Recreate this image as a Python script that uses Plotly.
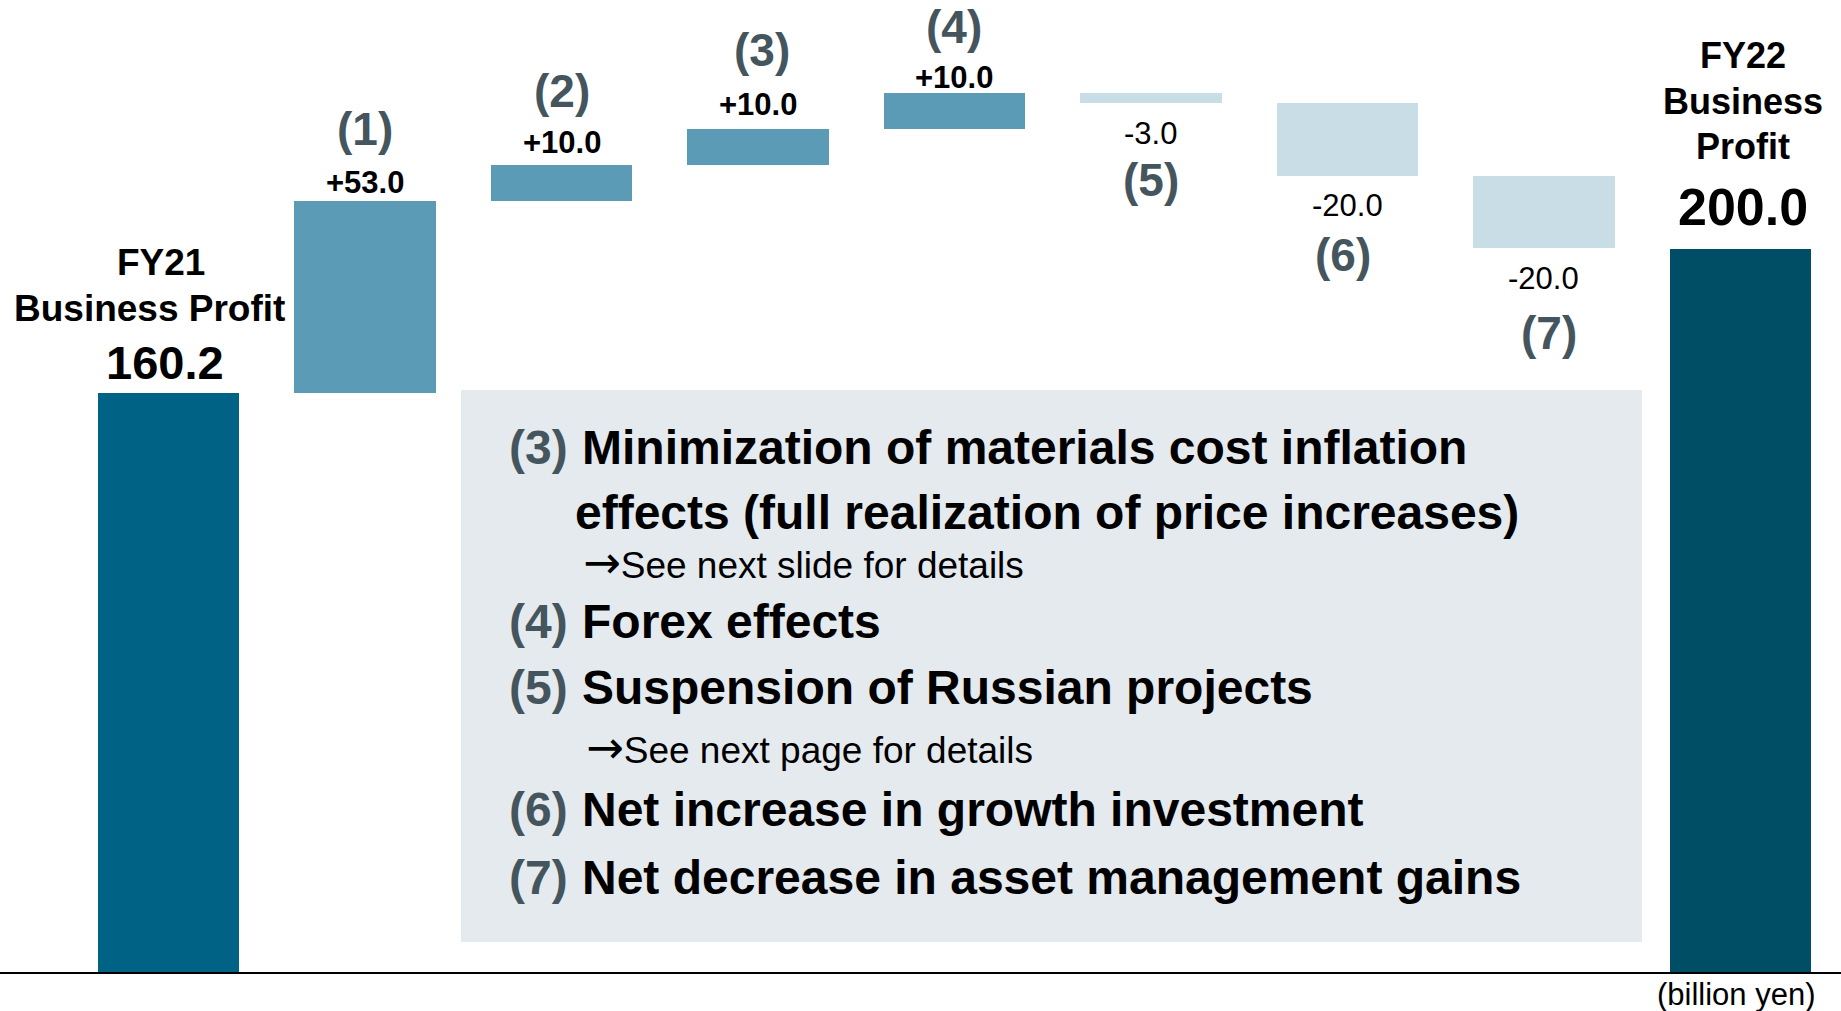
import plotly.graph_objects as go

# ---------------------------------------------------------------------------
# Data: FY21 -> FY22 business profit bridge (billion yen)
# ---------------------------------------------------------------------------
categories = ["FY21", "(1)", "(2)", "(3)", "(4)", "(5)", "(6)", "(7)", "FY22"]
start_value = 160.2
deltas = [53.0, 10.0, 10.0, 10.0, -3.0, -20.0, -20.0]
delta_labels = ["+53.0", "+10.0", "+10.0", "+10.0", "-3.0", "-20.0", "-20.0"]
end_value = 200.0
start_label = "160.2"
end_label = "200.0"

note_nums = ["(3)", "(4)", "(5)", "(6)", "(7)"]
note_texts = [
    "Minimization of materials cost inflation",
    "Forex effects",
    "Suspension of Russian projects",
    "Net increase in growth investment",
    "Net decrease in asset management gains",
]

# colours
C_START = "#006385"
C_END = "#004D66"
C_UP = "#5B9BB5"
C_DOWN = "#C8DDE5"
C_NUM = "#44555E"
C_BOX = "#E4EAED"
FONT = "Liberation Sans, Arial, sans-serif"
ARROW = "<span style='font-family:DejaVu Sans;font-size:45px'>\u2192</span>"

W, H = 1841, 1011
PLOT_H = 972  # plot area height in px (bottom margin below the axis line)

# pixel offsets of the value label / step label from the bar end (layout only)
value_shift = [19, 22, 24, 15, -30, -30, -30]
step_shift = [72, 74, 79, 66, -77, -79, -85]
step_xshift = [0, 0, 4, 0, 0, -4, 5]


def px(x):
    return x / W


def py(y):
    return (PLOT_H - y) / PLOT_H


# ---------------------------------------------------------------------------
# Build bars (floating bars via base)
# ---------------------------------------------------------------------------
bases = [0]
heights = [start_value]
colors = [C_START]
running = start_value
for d in deltas:
    bases.append(running)
    heights.append(d)
    colors.append(C_UP if d > 0 else C_DOWN)
    running += d
bases.append(0)
heights.append(end_value)
colors.append(C_END)

fig = go.Figure()
fig.add_trace(
    go.Bar(
        x=categories,
        y=heights,
        base=bases,
        width=0.7176,
        marker=dict(color=colors, line=dict(width=0)),
        hoverinfo="skip",
        showlegend=False,
    )
)

# ---------------------------------------------------------------------------
# Labels above / below the step bars (data coordinates)
# ---------------------------------------------------------------------------
data_ann = []
running = start_value
for i, (cat, d, lbl) in enumerate(zip(categories[1:-1], deltas, delta_labels)):
    end = running + d
    vtxt = "<b>" + lbl + "</b>" if d > 0 else lbl
    data_ann.append(dict(x=cat, y=end, text=vtxt, yshift=value_shift[i],
                         font=dict(size=31, color="black")))
    data_ann.append(dict(x=cat, y=end, text="<b>" + cat + "</b>", yshift=step_shift[i],
                         xshift=step_xshift[i], font=dict(size=46, color=C_NUM)))
    running = end

# FY21 / FY22 labels
data_ann += [
    dict(x=categories[0], y=start_value, text="<b>" + start_label + "</b>",
         yshift=30, xshift=-4, font=dict(size=47, color="black")),
    dict(x=categories[0], y=start_value, text="<b>Business Profit</b>",
         yshift=84, xshift=-19, font=dict(size=37, color="black")),
    dict(x=categories[0], y=start_value, text="<b>FY21</b>",
         yshift=130, xshift=-8, font=dict(size=37, color="black")),
    dict(x=categories[-1], y=end_value, text="<b>" + end_label + "</b>",
         yshift=42, xshift=3, font=dict(size=52, color="black")),
    dict(x=categories[-1], y=end_value, text="<b>Profit</b>",
         yshift=102, xshift=3, font=dict(size=36, color="black")),
    dict(x=categories[-1], y=end_value, text="<b>Business</b>",
         yshift=147, xshift=3, font=dict(size=36, color="black")),
    dict(x=categories[-1], y=end_value, text="<b>FY22</b>",
         yshift=193, xshift=3, font=dict(size=36, color="black")),
]

for a in data_ann:
    a.update(xref="x", yref="y", showarrow=False, xanchor="center", yanchor="middle")
    a["font"]["family"] = FONT

# ---------------------------------------------------------------------------
# Explanation box (paper coordinates)
# ---------------------------------------------------------------------------
paper_ann = []
num_rows = [447, 621, 687, 809, 877]
for num, txt, yrow in zip(note_nums, note_texts, num_rows):
    paper_ann.append(dict(x=px(507), y=py(yrow), text="<b>" + num + "</b>",
                          font=dict(size=48, color=C_NUM)))
    paper_ann.append(dict(x=px(580), y=py(yrow), text="<b>" + txt + "</b>",
                          font=dict(size=48, color="black")))
paper_ann += [
    dict(x=px(573), y=py(512), text="<b>effects (full realization of price increases)</b>",
         font=dict(size=48, color="black")),
    dict(x=px(581), y=py(562), text=ARROW + "See next slide for details",
         font=dict(size=37, color="black")),
    dict(x=px(584), y=py(748), text=ARROW + "See next page for details",
         font=dict(size=37, color="black")),
    dict(x=px(1818), y=py(994), text="(billion yen)", xanchor="right",
         font=dict(size=31, color="black")),
]

for a in paper_ann:
    a.update(xref="paper", yref="paper", showarrow=False, yanchor="middle")
    a.setdefault("xanchor", "left")
    a["font"]["family"] = FONT

fig.add_shape(type="rect", xref="paper", yref="paper",
              x0=px(461), x1=px(1642), y0=py(942), y1=py(390),
              fillcolor=C_BOX, line=dict(width=0), layer="below")

# ---------------------------------------------------------------------------
# Layout
# ---------------------------------------------------------------------------
fig.update_layout(
    width=W,
    height=H,
    margin=dict(l=0, r=0, t=0, b=H - PLOT_H),
    plot_bgcolor="white",
    paper_bgcolor="white",
    annotations=data_ann + paper_ann,
    bargap=0,
    xaxis=dict(range=[-0.8575, 8.5115], showticklabels=False, showgrid=False,
               zeroline=False, showline=True, linecolor="black", linewidth=2,
               ticks="", fixedrange=True),
    yaxis=dict(range=[0, 268.8], visible=False, showgrid=False, zeroline=False,
               fixedrange=True),
    font=dict(family=FONT),
)

fig.write_html("out.html", config={"displayModeBar": False},
               post_script="document.body.style.margin='0';")
